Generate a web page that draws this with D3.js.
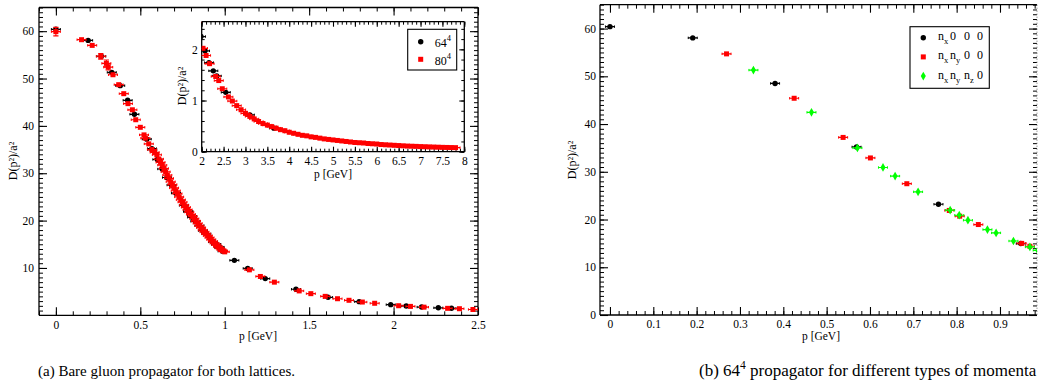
<!DOCTYPE html>
<html>
<head>
<meta charset="utf-8">
<script src="https://cdn.jsdelivr.net/npm/d3@7/dist/d3.min.js"></script>
<style>
  body { margin: 0; background: #fff; }
  svg { display: block; }
</style>
</head>
<body>
<svg id="chart" width="1039" height="392"></svg>
<script>
// (a) bare gluon propagator, rows are [p (GeV), D(p^2)/a^2, error]
const lattice64 = [
  [0, 60.4, 0.5], [0.191, 58.05, 0.4], [0.269, 54.7, 0.4], [0.331, 51.3, 0.4],
  [0.381, 48.5, 0.3], [0.425, 45.4, 0.3], [0.465, 42.45, 0.3], [0.538, 37.2, 0.3],
  [0.569, 35.2, 0.3], [0.571, 35.0, 0.3], [0.601, 32.9, 0.3], [0.63, 30.9, 0.3],
  [0.658, 29.1, 0.3], [0.685, 27.5, 0.2], [0.711, 25.8, 0.2], [0.758, 23.2, 0.2],
  [0.783, 21.95, 0.2], [0.785, 21.9, 0.2], [0.806, 20.9, 0.2], [0.807, 20.7, 0.2],
  [0.826, 19.85, 0.2], [0.85, 18.95, 0.2], [0.871, 17.9, 0.2], [0.891, 17.2, 0.2],
  [0.931, 15.5, 0.2], [0.948, 14.97, 0.2], [0.95, 15.0, 0.2], [0.969, 14.4, 0.2],
  [0.969, 14.25, 0.2], [0.987, 13.55, 0.2], [1.057, 11.6, 0.2], [1.136, 9.9, 0.2],
  [1.24, 7.75, 0.1], [1.422, 5.5, 0.1], [1.612, 3.8, 0.1], [1.796, 2.88, 0.05],
  [1.983, 2.25, 0.05], [2.075, 1.97, 0.03], [2.166, 1.74, 0.03], [2.265, 1.58, 0.03],
  [2.343, 1.48, 0.03], [2.55, 1.16, 0.02], [3.1, 0.72, 0.02], [3.65, 0.46, 0.01],
];

const lattice80 = [
  [0, 59.9, 0.9], [0.152, 58.2, 0.5], [0.215, 57.0, 0.5], [0.266, 54.7, 0.6],
  [0.299, 53.2, 0.7], [0.31, 52.4, 0.6], [0.338, 50.8, 0.5], [0.372, 48.7, 0.5],
  [0.402, 46.8, 0.4], [0.427, 44.7, 0.5], [0.453, 43.4, 0.5], [0.473, 41.3, 0.4],
  [0.5, 39.7, 0.4], [0.522, 38.1, 0.5], [0.53, 37.4, 0.4], [0.55, 36.2, 0.4],
  [0.569, 35.0, 0.3], [0.585, 34.4, 0.3], [0.598, 33.9, 0.3],
  [0.61, 33.0, 0.3], [0.62, 32.3, 0.3], [0.63, 31.7, 0.3], [0.64, 31.0, 0.3],
  [0.65, 30.3, 0.3], [0.66, 29.6, 0.3], [0.67, 28.9, 0.3], [0.68, 28.2, 0.3],
  [0.69, 27.6, 0.3], [0.7, 26.9, 0.3], [0.71, 26.3, 0.3], [0.72, 25.7, 0.3],
  [0.73, 25.0, 0.3], [0.74, 24.4, 0.3], [0.75, 23.9, 0.3], [0.76, 23.3, 0.3],
  [0.77, 22.8, 0.3], [0.78, 22.3, 0.3], [0.79, 21.8, 0.3], [0.8, 21.3, 0.3],
  [0.81, 20.9, 0.3], [0.82, 20.4, 0.3], [0.83, 19.9, 0.3], [0.84, 19.4, 0.3],
  [0.85, 18.9, 0.3], [0.86, 18.5, 0.3], [0.87, 18.0, 0.3], [0.88, 17.6, 0.3],
  [0.89, 17.2, 0.3], [0.9, 16.8, 0.3], [0.91, 16.4, 0.3], [0.92, 16.0, 0.3],
  [0.93, 15.6, 0.3], [0.94, 15.2, 0.3], [0.95, 14.9, 0.3], [0.96, 14.5, 0.3],
  [0.97, 14.2, 0.3], [0.98, 13.9, 0.3], [0.99, 13.6, 0.3], [1.0, 13.4, 0.3],
  [1.146, 9.6, 0.2], [1.211, 8.2, 0.2], [1.294, 7.0, 0.2], [1.441, 5.15, 0.1],
  [1.51, 4.57, 0.1], [1.595, 4.0, 0.1], [1.668, 3.5, 0.1], [1.736, 3.17, 0.1],
  [1.815, 2.8, 0.05], [1.888, 2.54, 0.05], [2.03, 2.02, 0.03], [2.1, 1.88, 0.03],
  [2.18, 1.72, 0.03], [2.32, 1.47, 0.03], [2.39, 1.39, 0.03], [2.47, 1.23, 0.02],
  [2.61, 1.07, 0.02], [2.7, 0.99, 0.02], [2.8, 0.9, 0.02], [2.9, 0.82, 0.02],
  [3.0, 0.75, 0.02], [3.1, 0.69, 0.02], [3.2, 0.64, 0.02], [3.3, 0.59, 0.02],
  [3.4, 0.55, 0.01], [3.5, 0.52, 0.01], [3.6, 0.49, 0.01], [3.7, 0.46, 0.01],
  [3.8, 0.43, 0.01], [3.9, 0.41, 0.01], [4.0, 0.38, 0.01], [4.1, 0.36, 0.01],
  [4.2, 0.34, 0.01], [4.3, 0.32, 0.01], [4.4, 0.31, 0.01], [4.5, 0.29, 0.01],
  [4.6, 0.28, 0.01], [4.7, 0.265, 0.01], [4.8, 0.25, 0.01], [4.9, 0.24, 0.01],
  [5.0, 0.23, 0.01], [5.1, 0.22, 0.01], [5.2, 0.21, 0.01], [5.3, 0.2, 0.01],
  [5.4, 0.19, 0.01], [5.5, 0.18, 0.01], [5.6, 0.175, 0.01], [5.7, 0.17, 0.01],
  [5.8, 0.16, 0.01], [5.9, 0.155, 0.01], [6.0, 0.15, 0.01], [6.1, 0.14, 0.01],
  [6.2, 0.135, 0.01], [6.3, 0.13, 0.01], [6.4, 0.125, 0.01], [6.5, 0.12, 0.01],
  [6.6, 0.115, 0.01], [6.7, 0.11, 0.01], [6.8, 0.107, 0.01], [6.9, 0.104, 0.01],
  [7.0, 0.1, 0.01], [7.1, 0.097, 0.01], [7.2, 0.094, 0.01], [7.3, 0.091, 0.01],
  [7.4, 0.088, 0.01], [7.5, 0.085, 0.01], [7.6, 0.083, 0.01], [7.7, 0.081, 0.01],
  [7.8, 0.079, 0.01],
];

// (b) 64^4 lattice split by momentum type
const momX000 = [
  [0, 60.4, 0.4], [0.191, 58.05, 0.3], [0.381, 48.5, 0.3], [0.569, 35.2, 0.2],
  [0.758, 23.2, 0.2], [0.948, 14.97, 0.2],
];
const momXY00 = [
  [0.269, 54.7, 0.3], [0.425, 45.4, 0.3], [0.538, 37.2, 0.2], [0.601, 32.9, 0.2],
  [0.685, 27.5, 0.2], [0.783, 21.9, 0.2], [0.807, 20.7, 0.2], [0.85, 18.95, 0.2],
  [0.95, 15.0, 0.2], [0.969, 14.4, 0.2],
];
const momXYZ0 = [
  [0.331, 51.3, 0.3], [0.465, 42.45, 0.3], [0.571, 35.0, 0.2], [0.63, 30.9, 0.2],
  [0.658, 29.1, 0.2], [0.711, 25.8, 0.2], [0.785, 21.95, 0.2], [0.806, 20.9, 0.2],
  [0.826, 19.85, 0.2], [0.871, 17.9, 0.2], [0.891, 17.2, 0.2], [0.931, 15.5, 0.2],
  [0.969, 14.25, 0.2], [0.987, 13.55, 0.2],
];

const mainXTicks = [0, 0.5, 1, 1.5, 2, 2.5];
const mainYTicks = [10, 20, 30, 40, 50, 60];
const insetXTicks = [2, 2.5, 3, 3.5, 4, 4.5, 5, 5.5, 6, 6.5, 7, 7.5, 8];
const insetYTicks = [0, 1, 2];
const momXTicks = [0, 0.1, 0.2, 0.3, 0.4, 0.5, 0.6, 0.7, 0.8, 0.9];
const momYTicks = [0, 10, 20, 30, 40, 50, 60];

const legendA = [['64', '4'], ['80', '4']];
const legendB = [['nx', '0', '0', '0'], ['nx', 'ny', '0', '0'], ['nx', 'ny', 'nz', '0']];

const captionA = '(a) Bare gluon propagator for both lattices.';
const captionB = ['(b) 64', '4', ' propagator for different types of momenta'];
const yTitle = 'D(p²)/a²';
const xTitle = 'p [GeV]';

const SERIF = '"Liberation Serif", "Times New Roman", serif';
const RED = '#ff0000';
const GREEN = '#00ff00';

const svg = d3.select('#chart');
const defs = svg.append('defs');

function frame(id, x, y, cfg) {
  const [x0, x1] = x.range();
  const [yb, yt] = y.range();
  const g = svg.append('g').attr('class', `frame-${id}`);
  defs
    .append('clipPath')
    .attr('id', `clip-${id}`)
    .append('rect')
    .attr('x', x0)
    .attr('y', yt)
    .attr('width', x1 - x0)
    .attr('height', yb - yt);

  if (cfg.fill) {
    g.append('rect')
      .attr('x', x0)
      .attr('y', yt)
      .attr('width', x1 - x0)
      .attr('height', yb - yt)
      .attr('fill', '#fff');
  }

  const [dx0, dx1] = x.domain();
  const [dy0, dy1] = y.domain();
  const xMinor = d3.range(cfg.xMinor[0], dx1 + 1e-9, cfg.xMinor[1]).filter((v) => v >= dx0 - 1e-9);
  const yMinor = d3.range(cfg.yMinor[0], dy1 + 1e-9, cfg.yMinor[1]).filter((v) => v >= dy0 - 1e-9);
  const fmt = (d) => String(d);
  const none = () => '';

  const sides = [
    [d3.axisBottom, x, `translate(0,${yb})`, cfg.xTicks, xMinor, true, cfg.padX],
    [d3.axisTop, x, `translate(0,${yt})`, cfg.xTicks, xMinor, false, 0],
    [d3.axisLeft, y, `translate(${x0},0)`, cfg.yTicks, yMinor, true, cfg.padY],
    [d3.axisRight, y, `translate(${x1},0)`, cfg.yTicks, yMinor, false, 0],
  ];
  sides.forEach(([make, scale, tf, major, minor, labelled, pad]) => {
    g.append('g')
      .attr('transform', tf)
      .call(make(scale).tickValues(minor).tickSizeInner(-cfg.minorLen).tickSizeOuter(0).tickFormat(none))
      .call((s) => s.select('.domain').remove());
    const ax = g
      .append('g')
      .attr('transform', tf)
      .call(
        make(scale)
          .tickValues(major)
          .tickSizeInner(-cfg.majorLen)
          .tickSizeOuter(0)
          .tickPadding(pad)
          .tickFormat(labelled ? fmt : none),
      )
      .attr('font-family', SERIF)
      .attr('font-size', cfg.font);
    ax.select('.domain').remove();
    ax.selectAll('line').attr('stroke-width', 1.1);
  });

  const edge = (xa, ya, xb, yb2) =>
    g.append('line')
      .attr('x1', xa).attr('y1', ya).attr('x2', xb).attr('y2', yb2)
      .attr('stroke', '#000')
      .attr('stroke-width', cfg.stroke);
  edge(x0, yb, x1, yb);
  edge(x0, yt, x1, yt);
  edge(x0, yt, x0, yb);
  const right = edge(x1, yt, x1, yb);
  if (cfg.rightDotted) right.attr('stroke', '#777').attr('stroke-width', 1).attr('stroke-dasharray', '1 2');
  return g;
}

function series(id, data, x, y, shape, color) {
  const pts = svg
    .append('g')
    .attr('clip-path', `url(#clip-${id})`)
    .selectAll('g')
    .data(data)
    .join('g')
    .attr('transform', (d) => `translate(${x(d[0])},${y(d[1])})`);

  pts.append('line')
    .attr('x1', -4.5).attr('x2', 4.5)
    .attr('stroke', color).attr('stroke-width', 1.2);
  pts.append('line')
    .attr('x1', -4.5).attr('x2', -4.5).attr('y1', -1.2).attr('y2', 1.2)
    .attr('stroke', color);
  pts.append('line')
    .attr('x1', 4.5).attr('x2', 4.5).attr('y1', -1.2).attr('y2', 1.2)
    .attr('stroke', color);

  const err = pts.filter((d) => y(d[1] - d[2]) - y(d[1]) > 2.6);
  err.append('line')
    .attr('y1', (d) => y(d[1] + d[2]) - y(d[1]))
    .attr('y2', (d) => y(d[1] - d[2]) - y(d[1]))
    .attr('stroke', color).attr('stroke-width', 1.1);
  [1, -1].forEach((s) => {
    err.append('line')
      .attr('x1', -2.6).attr('x2', 2.6)
      .attr('y1', (d) => y(d[1] + s * d[2]) - y(d[1]))
      .attr('y2', (d) => y(d[1] + s * d[2]) - y(d[1]))
      .attr('stroke', color).attr('stroke-width', 1.1);
  });

  marker(pts, shape, color);
}

function marker(sel, shape, color) {
  if (shape === 'circle') sel.append('circle').attr('r', 2.7).attr('fill', color);
  else if (shape === 'square') sel.append('rect').attr('x', -2.5).attr('y', -2.5).attr('width', 5).attr('height', 5).attr('fill', color);
  else sel.append('path').attr('d', d3.symbol(d3.symbolDiamond, 22)()).attr('fill', color);
}

function yLabel(cx, cy, size) {
  svg.append('text')
    .attr('transform', `translate(${cx},${cy}) rotate(-90)`)
    .attr('text-anchor', 'middle')
    .attr('dominant-baseline', 'middle')
    .attr('font-family', SERIF)
    .attr('font-size', size)
    .text(yTitle);
}

function xLabel(cx, by, size) {
  svg.append('text')
    .attr('x', cx).attr('y', by)
    .attr('text-anchor', 'middle')
    .attr('font-family', SERIF)
    .attr('font-size', size)
    .text(xTitle);
}

// ---- panel (a) ----
const ax = d3.scaleLinear().domain([-0.1, 2.5]).range([39, 478]);
const ay = d3.scaleLinear().domain([0, 65]).range([315.3, 7.5]);
frame('a', ax, ay, {
  xTicks: mainXTicks, yTicks: mainYTicks, xMinor: [-0.1, 0.1], yMinor: [1, 1],
  majorLen: 8, minorLen: 4, padX: 6, padY: 5, font: 11.5, stroke: 1.3,
});
series('a', lattice64, ax, ay, 'circle', '#000');
series('a', lattice80, ax, ay, 'square', RED);
yLabel(14, 161, 12);
xLabel(258, 340, 11.5);

// inset
const ix = d3.scaleLinear().domain([2, 8]).range([201.7, 464.3]);
const iy = d3.scaleLinear().domain([0, 2.54]).range([151.7, 21.7]);
frame('inset', ix, iy, {
  xTicks: insetXTicks, yTicks: insetYTicks, xMinor: [2, 0.1], yMinor: [0, 0.2],
  majorLen: 5, minorLen: 3, padX: 5, padY: 4, font: 11.5, stroke: 1.3, fill: true,
});
series('inset', lattice64, ix, iy, 'circle', '#000');
series('inset', lattice80, ix, iy, 'square', RED);
yLabel(183, 86, 12);
xLabel(333, 178, 11.5);

const legA = svg.append('g');
legA.append('rect')
  .attr('x', 407.7).attr('y', 29.3).attr('width', 49).attr('height', 40.7)
  .attr('fill', '#fff').attr('stroke', '#000').attr('stroke-width', 1.1);
legendA.forEach(([base, sup], i) => {
  const row = legA.append('g').attr('transform', `translate(420.7,${41.7 + i * 17.6})`);
  marker(row, i === 0 ? 'circle' : 'square', i === 0 ? '#000' : RED);
  const t = row.append('text')
    .attr('x', 14).attr('y', 5.5)
    .attr('font-family', SERIF).attr('font-size', 12);
  t.append('tspan').text(base);
  t.append('tspan').attr('dy', -6).attr('font-size', 8.5).text(sup);
});

// ---- panel (b) ----
const bx = d3.scaleLinear().domain([-0.023, 0.9854]).range([600, 1037]);
const by = d3.scaleLinear().domain([0, 65]).range([315, 4.7]);
frame('b', bx, by, {
  xTicks: momXTicks, yTicks: momYTicks, xMinor: [0, 0.02], yMinor: [1, 1],
  majorLen: 8, minorLen: 4, padX: 5, padY: 4, font: 11.5, stroke: 1.3, rightDotted: true,
});
series('b', momX000, bx, by, 'circle', '#000');
series('b', momXY00, bx, by, 'square', RED);
series('b', momXYZ0, bx, by, 'diamond', GREEN);
yLabel(573, 160, 12);
xLabel(821, 340, 11.5);

const legB = svg.append('g');
legB.append('rect')
  .attr('x', 910).attr('y', 26.7).attr('width', 79.3).attr('height', 61.6)
  .attr('fill', '#fff').attr('stroke', '#000').attr('stroke-width', 1.1);
const legBColumns = [938, 950, 964, 977];
const legBStyles = [['circle', '#000'], ['square', RED], ['diamond', GREEN]];
legendB.forEach((tokens, i) => {
  const cy = 37.7 + i * 19.2;
  const row = legB.append('g');
  marker(row.append('g').attr('transform', `translate(923.3,${cy})`), ...legBStyles[i]);
  tokens.forEach((tok, j) => {
    const t = row.append('text')
      .attr('x', legBColumns[j]).attr('y', cy + 2.5)
      .attr('font-family', SERIF).attr('font-size', 12);
    t.append('tspan').text(tok[0]);
    if (tok.length > 1) t.append('tspan').attr('dy', 4).attr('font-size', 8.5).text(tok.slice(1));
  });
});

// ---- captions ----
svg.append('text')
  .attr('x', 38).attr('y', 376)
  .attr('font-family', SERIF).attr('font-size', 15)
  .text(captionA);
const capB = svg.append('text')
  .attr('x', 699).attr('y', 376)
  .attr('font-family', SERIF).attr('font-size', 17);
capB.append('tspan').text(captionB[0]);
capB.append('tspan').attr('dy', -7).attr('font-size', 11.5).text(captionB[1]);
capB.append('tspan').attr('dy', 7).text(captionB[2]);
</script>
</body>
</html>
